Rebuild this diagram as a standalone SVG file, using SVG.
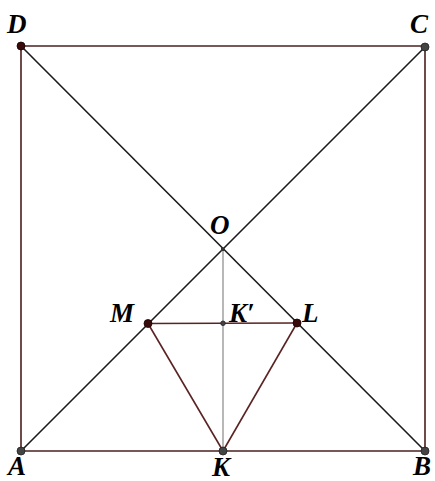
<svg xmlns="http://www.w3.org/2000/svg" width="435" height="481" viewBox="0 0 435 481">
<style>
.lab{font-family:"Liberation Serif","DejaVu Serif",serif;font-style:italic;font-weight:bold;font-size:27px;fill:#000}
.sq{stroke:#4a1f1f;stroke-width:1.6;fill:none}
.dg{stroke:#1a1a1a;stroke-width:1.6;fill:none}
.br{stroke:#5a2222;stroke-width:1.6;fill:none}
.gy{stroke:#888;stroke-width:1.2;fill:none}
.pd{fill:#3a0a0a;stroke:#1a0000;stroke-width:0.8}
.pg{fill:#444;stroke:#222;stroke-width:0.8}
</style>
<rect width="435" height="481" fill="#fff"/>
<g id="connectors">
<line class="sq" x1="21" y1="46" x2="425" y2="46"/>
<line class="sq" x1="21" y1="46" x2="21" y2="451"/>
<line class="sq" x1="425" y1="46" x2="425" y2="451"/>
<line class="sq" x1="21" y1="451" x2="425" y2="451"/>
<line class="dg" x1="21" y1="451" x2="425" y2="47"/>
<line class="dg" x1="21" y1="46" x2="425" y2="451"/>
<line class="gy" x1="223" y1="249" x2="223" y2="451"/>
<line class="br" x1="148" y1="323.5" x2="297" y2="323"/>
<line class="br" x1="148" y1="323.5" x2="223" y2="451"/>
<line class="br" x1="297" y1="323" x2="223" y2="451"/>
</g>
<g id="D"><circle class="pd" cx="21" cy="46" r="4"/><text class="lab" x="7" y="33">D</text></g>
<g id="C"><circle class="pg" cx="425" cy="47" r="4"/><text class="lab" x="410" y="33">C</text></g>
<g id="A"><circle class="pg" cx="21" cy="451" r="4"/><text class="lab" x="8" y="475">A</text></g>
<g id="B"><circle class="pg" cx="425" cy="451" r="4"/><text class="lab" x="413" y="475">B</text></g>
<g id="K"><circle class="pg" cx="223" cy="451" r="4"/><text class="lab" x="212" y="476">K</text></g>
<g id="O"><rect x="221" y="247.5" width="3.5" height="3.5" fill="#333"/><text class="lab" x="210" y="234">O</text></g>
<g id="M"><circle class="pd" cx="148" cy="323.5" r="4"/><text class="lab" x="110" y="322">M</text></g>
<g id="L"><circle class="pd" cx="297" cy="323" r="4"/><text class="lab" x="302" y="322">L</text></g>
<g id="Kp"><circle class="pg" cx="223" cy="323.3" r="2.3"/><text class="lab" x="229" y="322">K′</text></g>
</svg>
